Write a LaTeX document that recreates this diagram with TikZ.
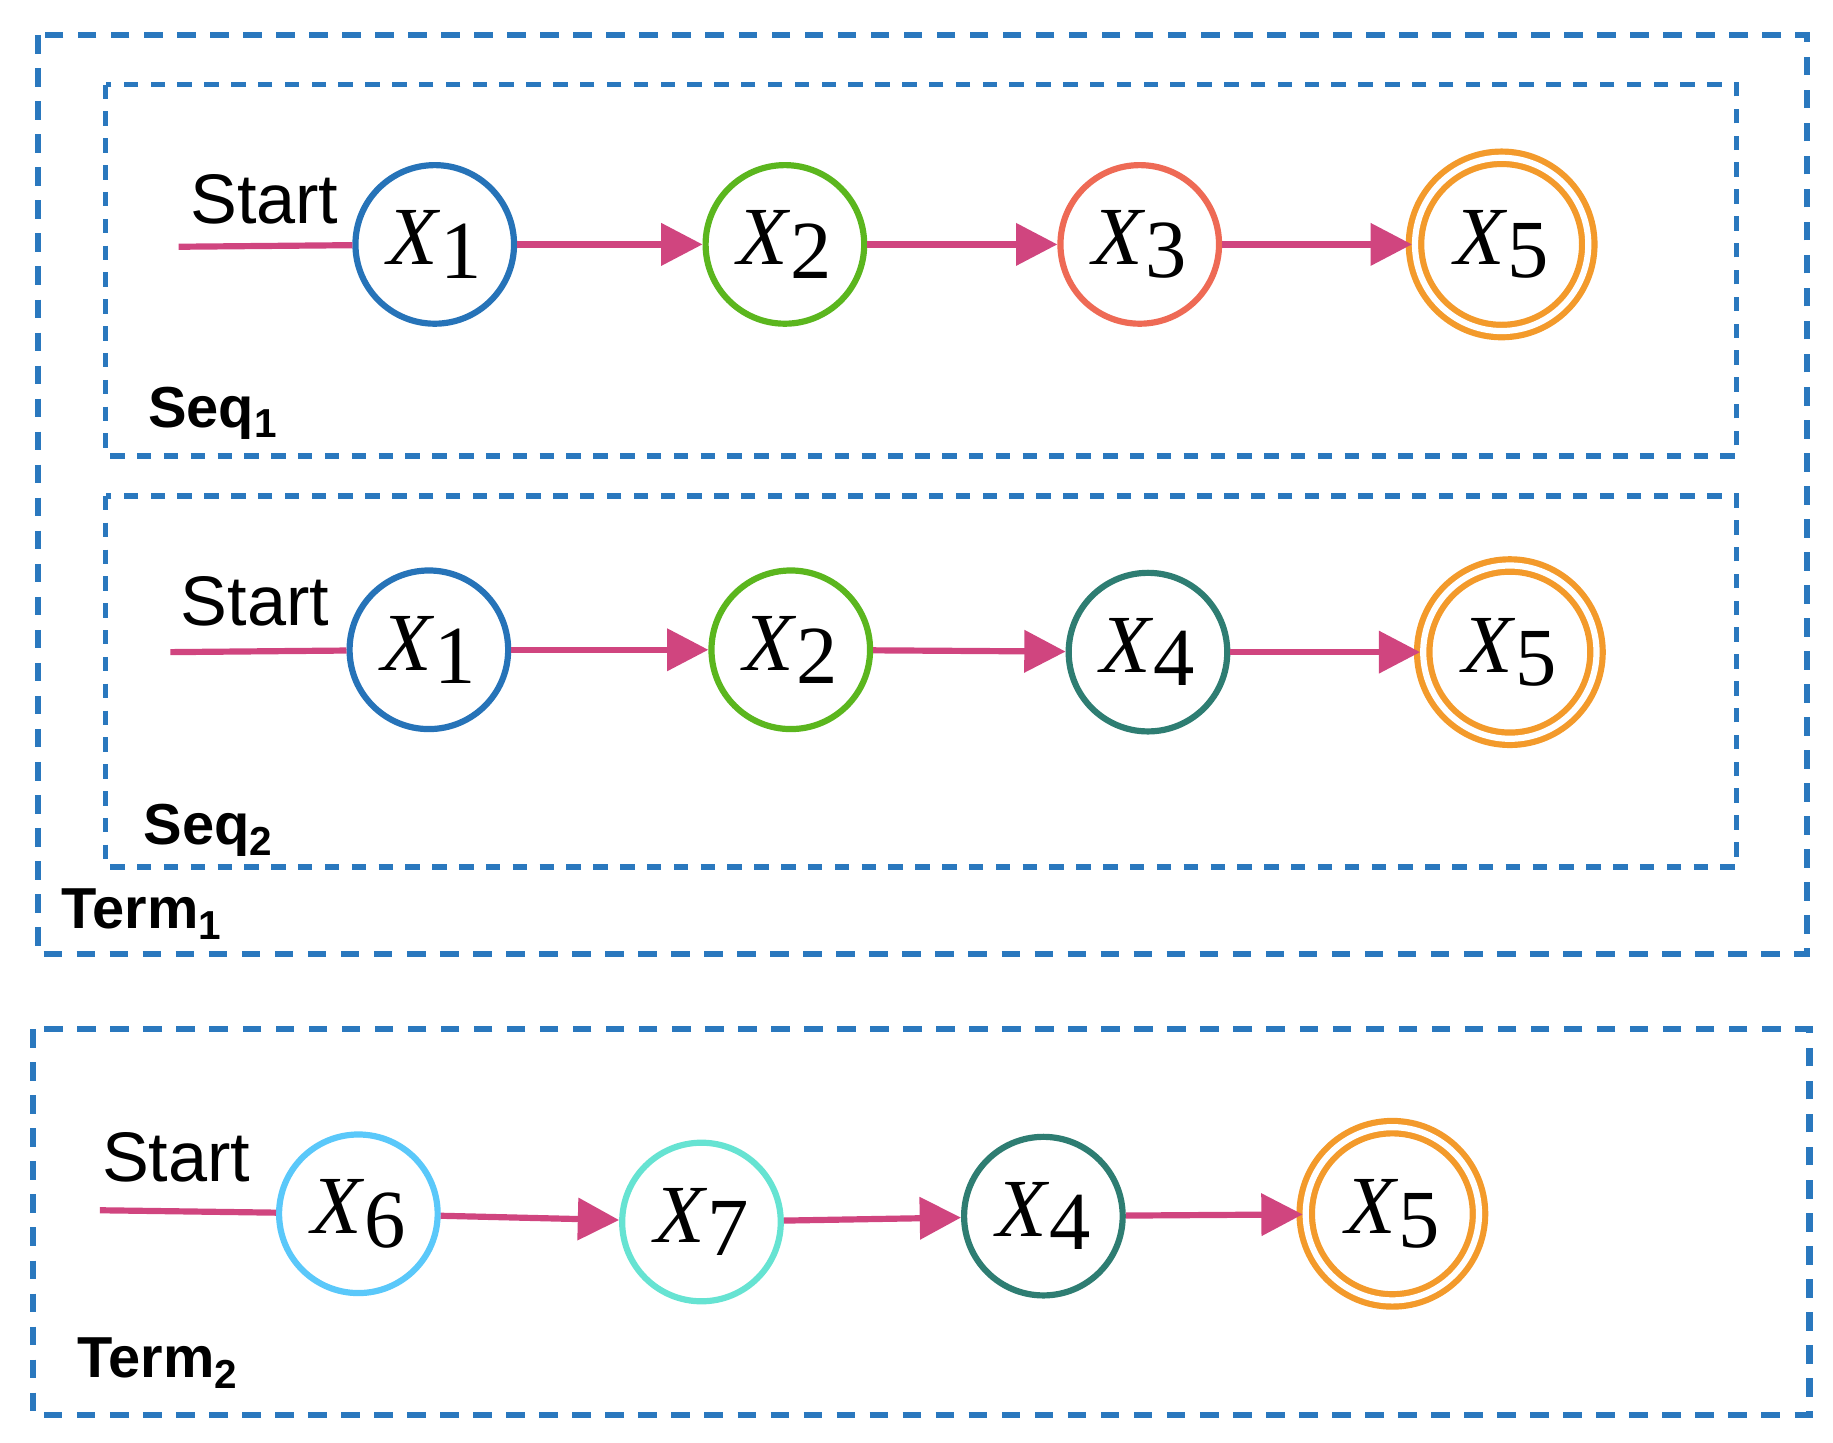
\documentclass[tikz,border=0pt]{standalone}
\usepackage{fontspec}
\setmainfont{Liberation Sans}
\newfontfamily\xserif{Liberation Serif}
\usetikzlibrary{arrows.meta}
\definecolor{bbox}{HTML}{2A78BE}
\definecolor{cblue}{HTML}{2673B8}
\definecolor{cgreen}{HTML}{5BB61E}
\definecolor{cred}{HTML}{EE6A55}
\definecolor{corange}{HTML}{F39A2B}
\definecolor{cteal}{HTML}{2E7D72}
\definecolor{clblue}{HTML}{5AC8FA}
\definecolor{ccyan}{HTML}{66E3D2}
\definecolor{cpink}{HTML}{D0457F}
\begin{document}
\begin{tikzpicture}[x=0.02cm,y=-0.02cm,
 box/.style={draw=bbox,line width=3pt,dash pattern=on 9pt off 7pt},
 ibox/.style={draw=bbox,line width=2.6pt,dash pattern=on 7pt off 6pt},
 st/.style={circle,line width=3pt,minimum size=2.7cm,inner sep=0pt,font=\xserif\fontsize{40}{40}\selectfont\itshape},
 fin/.style={st,double=white,double distance=3pt,minimum size=2.95cm},
 arr/.style={draw=cpink,line width=3pt,-{Triangle[length=20pt,width=20pt]}},
 sl/.style={draw=cpink,line width=3pt},
 stxt/.style={font=\fontsize{34}{34}\selectfont},
 lbl/.style={font=\bfseries\fontsize{28}{28}\selectfont}]
\useasboundingbox (0,0) rectangle (1560,1228);
\draw[box] (32,30) rectangle (1538,812);
\draw[ibox] (90,72) rectangle (1478,388);
\draw[ibox] (90,422) rectangle (1478,738);
\draw[box] (28,876) rectangle (1540,1204);
% row 1
\node[st,draw=cblue] (a1) at (370,208) {X\textup{\raisebox{-0.35ex}{1}}};
\node[st,draw=cgreen] (a2) at (668,208) {X\textup{\raisebox{-0.35ex}{2}}};
\node[st,draw=cred] (a3) at (970,208) {X\textup{\raisebox{-0.35ex}{3}}};
\node[fin,draw=corange] (a5) at (1278,208) {X\textup{\raisebox{-0.35ex}{5}}};
\coordinate (s1) at (152,210);
\node[stxt] (t1) at (225,170) {Start};
\draw[sl] (s1) -- (a1);
\draw[arr] (a1) -- (a2); \draw[arr] (a2) -- (a3); \draw[arr] (a3) -- (a5);
\node[lbl,anchor=west] (q1) at (120,352) {Seq\textsubscript{1}};
% row 2
\node[st,draw=cblue] (b1) at (365,553) {X\textup{\raisebox{-0.35ex}{1}}};
\node[st,draw=cgreen] (b2) at (673,553) {X\textup{\raisebox{-0.35ex}{2}}};
\node[st,draw=cteal] (b4) at (977,555) {X\textup{\raisebox{-0.35ex}{4}}};
\node[fin,draw=corange] (b5) at (1285,555) {X\textup{\raisebox{-0.35ex}{5}}};
\coordinate (s2) at (145,555);
\node[stxt] (t2) at (217,512) {Start};
\draw[sl] (s2) -- (b1);
\draw[arr] (b1) -- (b2); \draw[arr] (b2) -- (b4); \draw[arr] (b4) -- (b5);
\node[lbl,anchor=west] (q2) at (116,707) {Seq\textsubscript{2}};
\node[lbl,anchor=west] (r1) at (46,778) {Term\textsubscript{1}};
% row 3
\node[st,draw=clblue] (c6) at (305,1033) {X\textup{\raisebox{-0.35ex}{6}}};
\node[st,draw=ccyan] (c7) at (597,1040) {X\textup{\raisebox{-0.35ex}{7}}};
\node[st,draw=cteal] (c4) at (888,1035) {X\textup{\raisebox{-0.35ex}{4}}};
\node[fin,draw=corange] (c5) at (1185,1033) {X\textup{\raisebox{-0.35ex}{5}}};
\coordinate (s3) at (85,1030);
\node[stxt] (t3) at (150,985) {Start};
\draw[sl] (s3) -- (c6);
\draw[arr] (c6) -- (c7); \draw[arr] (c7) -- (c4); \draw[arr] (c4) -- (c5);
\node[lbl,anchor=west] (r2) at (60,1160) {Term\textsubscript{2}};
\end{tikzpicture}
\end{document}
